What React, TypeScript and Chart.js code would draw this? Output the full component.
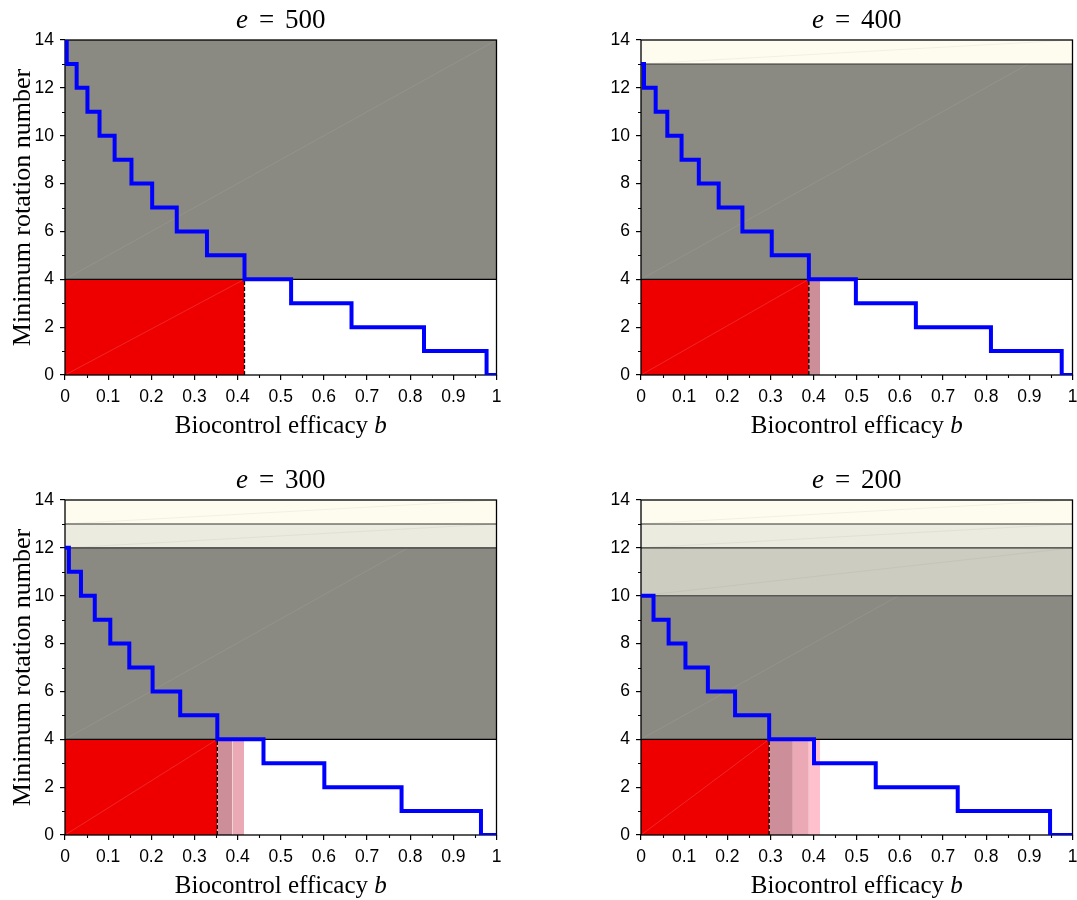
import React, { useEffect, useRef } from "react";
import { Chart, registerables } from "chart.js";

Chart.register(...registerables);

// ---------------- data ----------------
const PANEL_E = [500, 400, 300, 200];

// step curve: value N[i] holds from B[i] to B[i+1]
const STEP_B_500 = [0, 0.004, 0.027, 0.052, 0.08, 0.115, 0.154, 0.202, 0.259, 0.329, 0.416, 0.524, 0.664, 0.832, 0.977, 1];
const STEP_N_500 = [14, 13, 12, 11, 10, 9, 8, 7, 6, 5, 4, 3, 2, 1, 0, 0];

const STEP_B_400 = [0, 0.007, 0.034, 0.061, 0.094, 0.134, 0.18, 0.235, 0.303, 0.389, 0.498, 0.637, 0.811, 0.975, 1];
const STEP_N_400 = [13, 12, 11, 10, 9, 8, 7, 6, 5, 4, 3, 2, 1, 0, 0];

const STEP_B_300 = [0, 0.009, 0.037, 0.069, 0.105, 0.149, 0.203, 0.267, 0.353, 0.46, 0.601, 0.78, 0.964, 1];
const STEP_N_300 = [12, 11, 10, 9, 8, 7, 6, 5, 4, 3, 2, 1, 0, 0];

const STEP_B_200 = [0, 0.029, 0.064, 0.103, 0.155, 0.218, 0.297, 0.401, 0.544, 0.734, 0.948, 1];
const STEP_N_200 = [10, 9, 8, 7, 6, 5, 4, 3, 2, 1, 0, 0];

// horizontal region boundaries (rotation number)
const BAND_EDGES_500 = [4, 14];
const BAND_EDGES_400 = [4, 13, 14];
const BAND_EDGES_300 = [4, 12, 13, 14];
const BAND_EDGES_200 = [4, 10, 12, 13, 14];

// critical efficacy (red region right edge) and shaded pink strips
const CRIT_B = [0.416, 0.389, 0.353, 0.297];
const PINK_EDGES_500: number[] = [];
const PINK_EDGES_400 = [0.389, 0.415];
const PINK_EDGES_300 = [0.353, 0.388, 0.415];
const PINK_EDGES_200 = [0.297, 0.352, 0.389, 0.415];

const THRESHOLD_N = 4;
const DARK_DIAG_END_B = [1, 0.898, 0.795, 0.597];

const X_MIN = 0, X_MAX = 1, X_STEP = 0.1;
const Y_MIN = 0, Y_MAX = 14, Y_STEP = 2;

const X_TITLE = "Biocontrol efficacy ";
const X_TITLE_VAR = "b";
const Y_TITLE = "Minimum rotation number";

const STEPS_B = [STEP_B_500, STEP_B_400, STEP_B_300, STEP_B_200];
const STEPS_N = [STEP_N_500, STEP_N_400, STEP_N_300, STEP_N_200];
const BAND_EDGES = [BAND_EDGES_500, BAND_EDGES_400, BAND_EDGES_300, BAND_EDGES_200];
const PINK_EDGES = [PINK_EDGES_500, PINK_EDGES_400, PINK_EDGES_300, PINK_EDGES_200];

// ---------------- styles ----------------
const DARK = "#8a8982";
const UPPER_COLORS = ["#fdfcef", "#ecebdf", "#cdccc0"]; // from the top down
const PINK_COLORS = ["#cc8e99", "#eba8b5", "#fdc0cc"];
const RED = "#ee0000";
const BLUE = "#0000ff";
const SERIF = '"Liberation Serif", "Times New Roman", serif';
const SANS = '"Liberation Sans", Arial, sans-serif';

const LAYOUT = [
  { left: 0, top: 0, width: 538, height: 460, padRight: 41.5, yW: 65, xH: 85, showY: true },
  { left: 538, top: 0, width: 539, height: 460, padRight: 4.5, yW: 103, xH: 85, showY: false },
  { left: 0, top: 460, width: 538, height: 440, padRight: 41.5, yW: 65, xH: 65, showY: true },
  { left: 538, top: 460, width: 539, height: 440, padRight: 4.5, yW: 103, xH: 65, showY: false },
];

function lineDs(data: { x: number; y: number }[], extra: any) {
  return {
    data,
    pointRadius: 0,
    pointHoverRadius: 0,
    tension: 0,
    borderWidth: 0,
    fill: false,
    ...extra,
  };
}

function buildDatasets(i: number) {
  const ds: any[] = [];
  const edges = BAND_EDGES[i];
  const nb = edges.length - 1;
  const crit = CRIT_B[i];
  const T = THRESHOLD_N;
  for (let k = 0; k < nb; k++) {
    const lo = edges[k], hi = edges[k + 1];
    const color = k === 0 ? DARK : UPPER_COLORS[nb - 1 - k];
    ds.push(lineDs([{ x: X_MIN, y: hi }, { x: X_MAX, y: hi }], {
      fill: { value: lo }, backgroundColor: color, borderColor: "rgba(0,0,0,0)", order: 100,
    }));
  }
  ds.push(lineDs([{ x: X_MIN, y: T }, { x: crit, y: T }], {
    fill: { value: Y_MIN }, backgroundColor: RED, borderColor: "rgba(0,0,0,0)", order: 99,
  }));
  const pe = PINK_EDGES[i];
  for (let j = 0; j + 1 < pe.length; j++) {
    ds.push(lineDs([{ x: pe[j], y: T }, { x: pe[j + 1], y: T }], {
      fill: { value: Y_MIN }, backgroundColor: PINK_COLORS[j], borderColor: "rgba(0,0,0,0)", order: 99,
    }));
  }
  // faint rendering diagonals
  ds.push(lineDs([{ x: X_MIN, y: Y_MIN }, { x: crit, y: T }], {
    borderColor: "rgba(255,255,255,0.25)", borderWidth: 0.6, order: 98,
  }));
  ds.push(lineDs([{ x: X_MIN, y: T }, { x: DARK_DIAG_END_B[i], y: edges[1] }], {
    borderColor: "rgba(255,255,255,0.14)", borderWidth: 0.6, order: 98,
  }));
  for (let k = 1; k < nb; k++) {
    ds.push(lineDs([{ x: X_MIN, y: edges[k] }, { x: X_MAX, y: edges[k + 1] }], {
      borderColor: "rgba(110,110,100,0.14)", borderWidth: 0.6, order: 98,
    }));
  }
  // boundaries
  for (let k = 1; k < nb; k++) {
    ds.push(lineDs([{ x: X_MIN, y: edges[k] }, { x: X_MAX, y: edges[k] }], {
      borderColor: "#333333", borderWidth: 1.1, order: 97,
    }));
  }
  ds.push(lineDs([{ x: X_MIN, y: T }, { x: X_MAX, y: T }], {
    borderColor: "#000", borderWidth: 1.3, order: 97,
  }));
  ds.push(lineDs([{ x: crit, y: Y_MIN }, { x: crit, y: T }], {
    borderColor: "#000", borderWidth: 1.3, borderDash: [4, 2], order: 96,
  }));
  const B = STEPS_B[i], N = STEPS_N[i];
  ds.push(lineDs(B.map((b, k) => ({ x: b, y: N[k] })), {
    stepped: "before", borderColor: BLUE, borderWidth: 4, clip: 0,
    borderJoinStyle: "miter", borderCapStyle: "butt", order: 1, isStep: true,
  }));
  return ds;
}

const decorPlugin = {
  id: "decor",
  beforeDatasetDraw(chart: any, args: any) {
    const d = chart.data.datasets[args.index];
    if (!d || !d.isStep) return;
    const { ctx, chartArea: a } = chart;
    ctx.save();
    ctx.strokeStyle = "#000";
    ctx.lineWidth = 1.3;
    ctx.strokeRect(a.left, a.top, a.right - a.left, a.bottom - a.top);
    ctx.restore();
  },
  afterDraw(chart: any, _args: any, opts: any) {
    const { ctx, chartArea: a, scales } = chart;
    const xs = scales.x, ys = scales.y;
    ctx.save();
    // minor ticks
    ctx.strokeStyle = "#000";
    ctx.lineWidth = 1.1;
    ctx.beginPath();
    for (let v = X_MIN + X_STEP / 2; v < X_MAX; v += X_STEP) {
      const px = Math.round(xs.getPixelForValue(v)) + 0.5;
      ctx.moveTo(px, a.bottom);
      ctx.lineTo(px, a.bottom + 3);
    }
    for (let v = Y_MIN + Y_STEP / 2; v < Y_MAX; v += Y_STEP) {
      const py = Math.round(ys.getPixelForValue(v)) + 0.5;
      ctx.moveTo(a.left - 3, py);
      ctx.lineTo(a.left, py);
    }
    ctx.stroke();

    ctx.fillStyle = "#000";
    ctx.textBaseline = "alphabetic";
    ctx.textAlign = "left";
    const cx = (a.left + a.right) / 2;
    // title
    const fs = 27;
    ctx.font = `italic ${fs}px ${SERIF}`;
    const wE = ctx.measureText("e").width;
    ctx.font = `${fs}px ${SERIF}`;
    const wEq = ctx.measureText("=").width;
    const num = String(opts.e);
    const wNum = ctx.measureText(num).width;
    const gap = 0.4 * fs;
    const total = wE + gap + wEq + gap + wNum;
    let tx = cx - total / 2;
    const ty = a.top - 12;
    ctx.font = `italic ${fs}px ${SERIF}`;
    ctx.fillText("e", tx, ty);
    tx += wE + gap;
    ctx.font = `${fs}px ${SERIF}`;
    ctx.fillText("=", tx, ty);
    tx += wEq + gap;
    ctx.fillText(num, tx, ty);

    // x title
    const fl = 25;
    ctx.font = `${fl}px ${SERIF}`;
    const w1 = ctx.measureText(X_TITLE).width;
    ctx.font = `italic ${fl}px ${SERIF}`;
    const w2 = ctx.measureText(X_TITLE_VAR).width;
    const lx = cx - (w1 + w2) / 2;
    const ly = a.bottom + 58;
    ctx.font = `${fl}px ${SERIF}`;
    ctx.fillText(X_TITLE, lx, ly);
    ctx.font = `italic ${fl}px ${SERIF}`;
    ctx.fillText(X_TITLE_VAR, lx + w1, ly);

    if (opts.showY) {
      ctx.translate(a.left - 35, (a.top + a.bottom) / 2);
      ctx.rotate(-Math.PI / 2);
      ctx.textAlign = "center";
      ctx.font = `26px ${SERIF}`;
      ctx.fillText(Y_TITLE, 0, 0);
    }
    ctx.restore();
  },
};

function Panel({ idx }: { idx: number }) {
  const ref = useRef<HTMLCanvasElement>(null);
  const L = LAYOUT[idx];
  useEffect(() => {
    if (!ref.current) return;
    const chart = new Chart(ref.current, {
      type: "line",
      data: { datasets: buildDatasets(idx) },
      plugins: [decorPlugin as any],
      options: {
        animation: false,
        responsive: false,
        events: [],
        layout: { padding: { left: 0, top: 40, right: L.padRight, bottom: 0 } },
        plugins: {
          legend: { display: false },
          tooltip: { enabled: false },
          title: { display: false },
          decor: { e: PANEL_E[idx], showY: L.showY },
        } as any,
        scales: {
          x: {
            type: "linear",
            min: X_MIN,
            max: X_MAX,
            afterFit: (s: any) => {
              s.height = L.xH;
              s.paddingLeft = 0; s.paddingRight = 0; s.paddingTop = 0; s.paddingBottom = 0;
            },
            ticks: {
              stepSize: X_STEP,
              autoSkip: false,
              maxRotation: 0,
              minRotation: 0,
              padding: 7,
              color: "#000",
              font: { family: SANS, size: 17.5 },
              callback: (v: any) => String(Math.round(Number(v) * 10) / 10),
            },
            grid: { drawOnChartArea: false, drawTicks: true, tickLength: 5, color: "#000", lineWidth: 1.2 },
            border: { display: false },
          },
          y: {
            type: "linear",
            min: Y_MIN,
            max: Y_MAX,
            afterFit: (s: any) => {
              s.width = L.yW;
              s.paddingLeft = 0; s.paddingRight = 0; s.paddingTop = 0; s.paddingBottom = 0;
            },
            ticks: {
              stepSize: Y_STEP,
              padding: 6,
              color: "#000",
              font: { family: SANS, size: 17.5 },
              callback: (v: any) => String(Math.round(Number(v))),
            },
            grid: { drawOnChartArea: false, drawTicks: true, tickLength: 5, color: "#000", lineWidth: 1.2 },
            border: { display: false },
          },
        },
      } as any,
    });
    return () => chart.destroy();
  }, []);
  return (
    <div style={{ position: "fixed", left: L.left, top: L.top, width: L.width, height: L.height }}>
      <canvas ref={ref} width={L.width} height={L.height} style={{ width: L.width, height: L.height, display: "block" }} />
    </div>
  );
}

export default function App() {
  return (
    <div>
      {PANEL_E.map((_, i) => (
        <Panel key={i} idx={i} />
      ))}
    </div>
  );
}
